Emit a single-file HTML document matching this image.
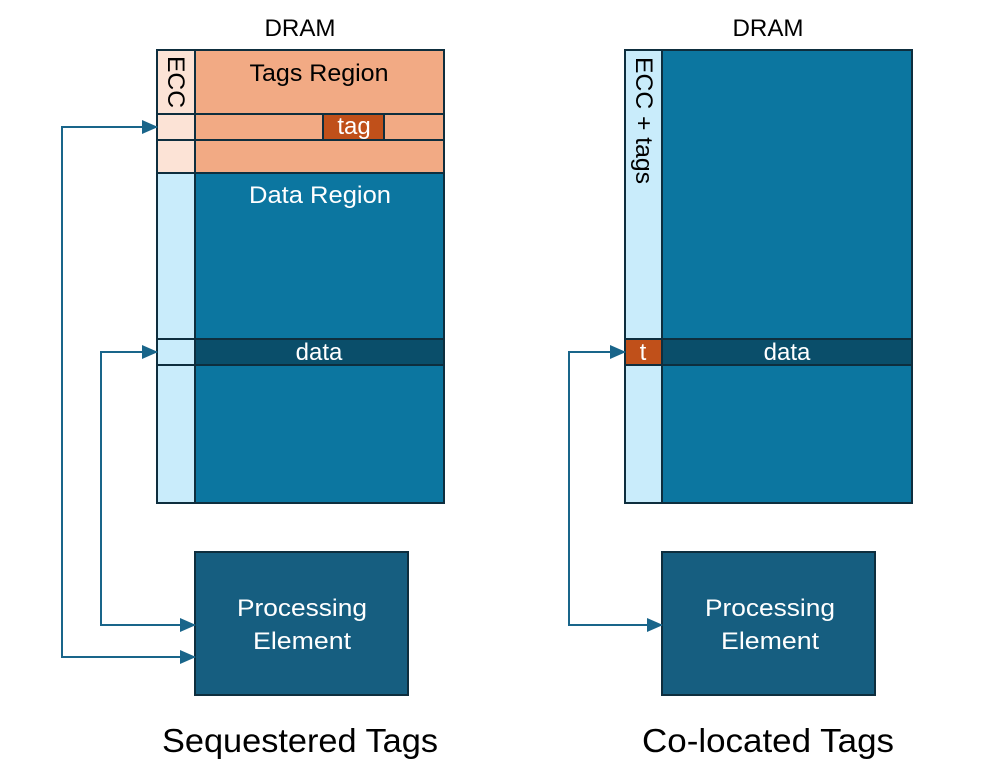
<!DOCTYPE html>
<html><head><meta charset="utf-8"><style>body{margin:0;background:#fff}svg{display:block}text{font-family:"Liberation Sans",sans-serif}</style></head><body>
<svg width="997" height="770" viewBox="0 0 997 770" xmlns="http://www.w3.org/2000/svg">
<defs><marker id="a" markerWidth="16" markerHeight="14" refX="15" refY="7" orient="auto" markerUnits="userSpaceOnUse"><path d="M0,0 L16,7 L0,14 z" fill="#19658A"/></marker></defs>
<g stroke="#0E2E3E" stroke-width="2">
<rect x="157" y="50" width="38" height="123" fill="#FCE3D6"/>
<rect x="195" y="50" width="249" height="123" fill="#F2AA84"/>
<line x1="157" y1="114" x2="444" y2="114"/><line x1="157" y1="140" x2="444" y2="140"/>
<rect x="323" y="114" width="61" height="26" fill="#C0501A"/>
<rect x="157" y="173" width="38" height="330" fill="#C9ECFB"/>
<rect x="195" y="173" width="249" height="330" fill="#0C76A0"/>
<rect x="195" y="339" width="249" height="26" fill="#0A4E6A"/>
<line x1="157" y1="339" x2="195" y2="339"/><line x1="157" y1="365" x2="195" y2="365"/>
<rect x="625" y="50" width="37" height="453" fill="#C9ECFB"/>
<rect x="662" y="50" width="250" height="453" fill="#0C76A0"/>
<rect x="662" y="339" width="250" height="26" fill="#0A4E6A"/>
<rect x="625" y="339" width="37" height="26" fill="#C0501A"/>
<rect x="195" y="552" width="213" height="143" fill="#165E80"/>
<rect x="662" y="552" width="213" height="143" fill="#165E80"/>
</g>
<g stroke="#19658A" stroke-width="2" fill="none">
<polyline points="157,127 62,127 62,657 195,657" marker-end="url(#a)"/>
<polyline points="157,352 101,352 101,625 195,625" marker-end="url(#a)"/>
<path d="M62,657 L62,127 L157,127" marker-end="url(#a)"/>
<path d="M101,625 L101,352 L157,352" marker-end="url(#a)"/>
<polyline points="625,352 569,352 569,625 662,625" marker-end="url(#a)"/>
<path d="M569,625 L569,352 L625,352" marker-end="url(#a)"/>
</g>
<g font-size="24" text-anchor="middle">
<text x="300" y="36" fill="#000" textLength="71" lengthAdjust="spacingAndGlyphs">DRAM</text>
<text x="768" y="36" fill="#000" textLength="71" lengthAdjust="spacingAndGlyphs">DRAM</text>
<text x="319" y="81" fill="#000" textLength="139" lengthAdjust="spacingAndGlyphs">Tags Region</text>
<text x="354" y="134" fill="#fff">tag</text>
<text x="320" y="203" fill="#fff" textLength="142" lengthAdjust="spacingAndGlyphs">Data Region</text>
<text x="319" y="360" fill="#fff">data</text>
<text x="787" y="360" fill="#fff">data</text>
<text x="643" y="360" fill="#fff">t</text>
<text x="302" y="616" fill="#fff" textLength="130" lengthAdjust="spacingAndGlyphs">Processing</text>
<text x="302" y="649" fill="#fff" textLength="98" lengthAdjust="spacingAndGlyphs">Element</text>
<text x="770" y="616" fill="#fff" textLength="130" lengthAdjust="spacingAndGlyphs">Processing</text>
<text x="770" y="649" fill="#fff" textLength="98" lengthAdjust="spacingAndGlyphs">Element</text>
<text transform="translate(168,56) rotate(90)" text-anchor="start" fill="#000" textLength="52" lengthAdjust="spacingAndGlyphs">ECC</text>
<text transform="translate(636,57) rotate(90)" text-anchor="start" fill="#000" textLength="127" lengthAdjust="spacingAndGlyphs">ECC + tags</text>
</g>
<g font-size="33" text-anchor="middle" fill="#000">
<text x="300" y="752" textLength="276" lengthAdjust="spacingAndGlyphs">Sequestered Tags</text>
<text x="768" y="752" textLength="252" lengthAdjust="spacingAndGlyphs">Co-located Tags</text>
</g>
</svg>
</body></html>
